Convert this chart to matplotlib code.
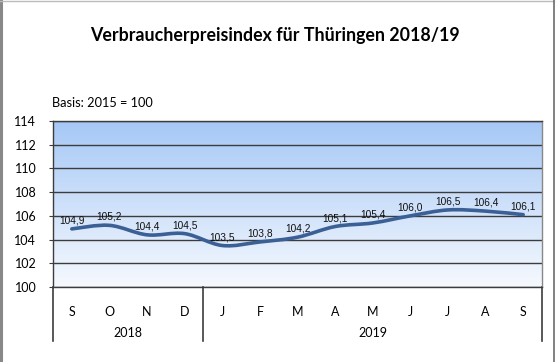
import matplotlib
matplotlib.use("Agg")
import matplotlib.pyplot as plt
from matplotlib.path import Path
from matplotlib.patches import PathPatch
from matplotlib.colors import LinearSegmentedColormap
import matplotlib.transforms as mtransforms
import numpy as np

# Daten
months = ["S", "O", "N", "D", "J", "F", "M", "A", "M", "J", "J", "A", "S"]
values = [104.9, 105.2, 104.4, 104.5, 103.5, 103.8, 104.2, 105.1, 105.4, 106.0, 106.5, 106.4, 106.1]
years = ["2018", "2019"]
year_spans = [(0, 3), (4, 12)]
y_ticks = [100, 102, 104, 106, 108, 110, 112, 114]

TITLE = "Verbraucherpreisindex für Thüringen 2018/19"
SUBTITLE = "Basis: 2015 = 100"

GRID = "#3c3c3c"
LINE = "#3b6096"
FONT = "Lato"


def smooth_path(xs, ys):
    # Catmull-Rom als Bezier, wie die geglaettete Linie in Excel
    pts = np.column_stack([xs, ys])
    n = len(pts)
    verts = [pts[0]]
    codes = [Path.MOVETO]
    for i in range(n - 1):
        p0 = pts[i - 1] if i > 0 else pts[i]
        p1 = pts[i]
        p2 = pts[i + 1]
        p3 = pts[i + 2] if i + 2 < n else pts[i + 1]
        c1 = p1 + (p2 - p0) / 6
        c2 = p2 - (p3 - p1) / 6
        verts += [c1, c2, p2]
        codes += [Path.CURVE4] * 3
    return Path(verts, codes)


fig = plt.figure(figsize=(5.56, 3.62), dpi=100)
ax = fig.add_axes([53 / 556, 1 - 287 / 362, (542 - 53) / 556, (287 - 121) / 362])

x = np.arange(len(months))
ax.set_xlim(-0.5, len(months) - 0.5)
ax.set_ylim(100, 114)

# Farbverlauf im Hintergrund
cmap = LinearSegmentedColormap.from_list("bg", ["#f6f9fe", "#a6c8f6"])
grad = np.linspace(0, 1, 256).reshape(-1, 1)
ax.imshow(grad, cmap=cmap, aspect="auto", origin="lower",
          extent=[0, 1, 0, 1], transform=ax.transAxes, zorder=0)

for yv in y_ticks:
    ax.axhline(yv, color=GRID, lw=1.0, zorder=1)

ax.add_patch(PathPatch(smooth_path(x, values), fill=False, edgecolor=LINE,
                       lw=2.6, capstyle="round", zorder=3))

for xi, v in zip(x, values):
    ax.annotate(f"{v:.1f}".replace(".", ","), (xi, v), xytext=(0, 2.5),
                textcoords="offset points", ha="center", va="bottom",
                fontsize=7.3, family="Liberation Sans", color="#111111", zorder=4)

ax.set_yticks(y_ticks)
ax.set_yticklabels([str(t) for t in y_ticks], fontsize=9, family=FONT)
ax.tick_params(axis="y", direction="out", length=3, width=0.8, color=GRID, pad=9)

ax.set_xticks(x)
ax.set_xticklabels(months, fontsize=9, family=FONT)
ax.tick_params(axis="x", length=0, pad=14)

for side in ["top", "right", "bottom", "left"]:
    ax.spines[side].set_color(GRID)
    ax.spines[side].set_linewidth(1.0)
ax.spines["right"].set_color("#888888")

# Jahresbeschriftung und Trennlinien
trans = mtransforms.blended_transform_factory(ax.transData, ax.transAxes)
for xv in [-0.5, 3.5, 12.5]:
    ax.plot([xv, xv], [0, -54 / 166], color=GRID, lw=1.2,
            transform=trans, clip_on=False)
for label, (a, b) in zip(years, year_spans):
    ax.text((a + b) / 2, -46 / 166, label, transform=trans, ha="center",
            va="center", fontsize=9, family=FONT)

fig.text(275 / 556, 1 - 36 / 362, TITLE, ha="center", va="center",
         fontsize=12.8, fontweight="bold", family=FONT)
fig.text(52 / 556, 1 - 103 / 362, SUBTITLE, ha="left", va="center",
         fontsize=9.2, family=FONT)

# Rahmen der Grafik
fig.add_artist(plt.Line2D([1 / 556, 1 / 556], [0, 1], color="#888888", lw=2.2))
fig.add_artist(plt.Line2D([0, 554 / 556], [1 - 0.5 / 362, 1 - 0.5 / 362], color="#bbbbbb", lw=1))
fig.add_artist(plt.Line2D([554 / 556, 554 / 556], [0, 1], color="#777777", lw=1.3))

fig.savefig("out.png", dpi=100)
